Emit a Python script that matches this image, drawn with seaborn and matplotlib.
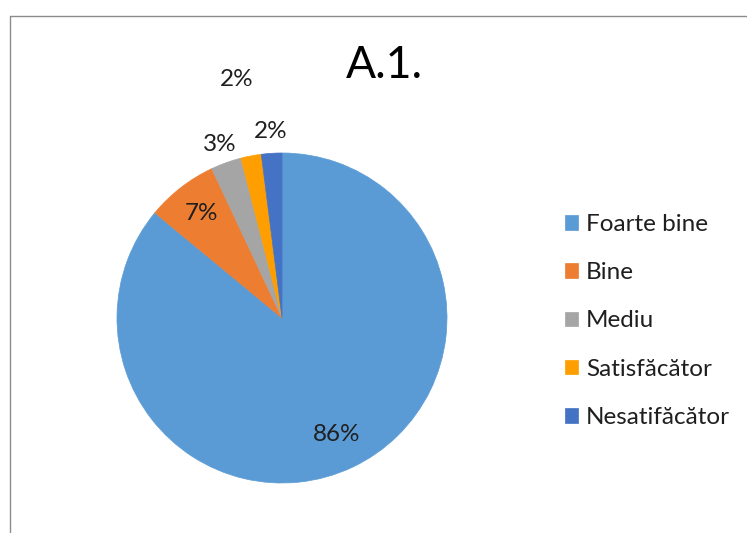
import numpy as np
import matplotlib
matplotlib.use('Agg')
import matplotlib.pyplot as plt
from matplotlib.lines import Line2D
import seaborn as sns

# 데이터
categories = ['Foarte bine', 'Bine', 'Mediu', 'Satisfăcător', 'Nesatifăcător']
values = [86, 7, 3, 2, 2]
colors = ['#5B9BD5', '#ED7D31', '#A5A5A5', '#FF9E00', '#4472C4']
title = 'A.1.'

sns.set_theme(style='white')
plt.rcParams['font.family'] = ['Lato', 'DejaVu Sans']

W, H = 747, 533
fig = plt.figure(figsize=(W / 100, H / 100), dpi=100)

# 파이 영역 (중심 282,318 / 반지름 165 px)
cx, cy, r = 282, 318, 165
ax = fig.add_axes([(cx - r) / W, (H - cy - r) / H, 2 * r / W, 2 * r / H])
palette = sns.color_palette(colors)
wedges, _ = ax.pie(values, colors=palette, startangle=90, counterclock=False,
                   radius=1, wedgeprops=dict(linewidth=0.5))
for w in wedges:
    w.set_edgecolor(w.get_facecolor())
ax.set_xlim(-1, 1)
ax.set_ylim(-1, 1)
ax.set_aspect('equal')
ax.axis('off')

# 퍼센트 라벨 (슬라이스별 거리)
label_dist = [0.78, 0.8, 1.12, 1.47, 1.13]
total = sum(values)
for w, v, d in zip(wedges, values, label_dist):
    ang = np.deg2rad((w.theta1 + w.theta2) / 2)
    ax.text(d * np.cos(ang), d * np.sin(ang), f'{v / total * 100:.0f}%',
            ha='center', va='center', fontsize=17.5, color='#1f1f1f')

fig.text(384 / W, 1 - 66 / H, title, ha='center', va='center',
         fontsize=32, color='black')

leg = fig.legend(wedges, categories, loc='upper left',
                 bbox_to_anchor=(565 / W, 1 - 214 / H), frameon=False,
                 fontsize=17.5, handlelength=0.55, handleheight=0.55,
                 handletextpad=0.32, labelspacing=1.12,
                 borderpad=0, borderaxespad=0)
for t in leg.get_texts():
    t.set_color('#1f1f1f')

# 차트 테두리
fig.add_artist(Line2D([10 / W, 10 / W], [0, 1 - 16 / H], color='#8c8c8c', lw=1))
fig.add_artist(Line2D([10 / W, 1], [1 - 16 / H, 1 - 16 / H], color='#8c8c8c', lw=1))

fig.savefig('out.png', dpi=100)
